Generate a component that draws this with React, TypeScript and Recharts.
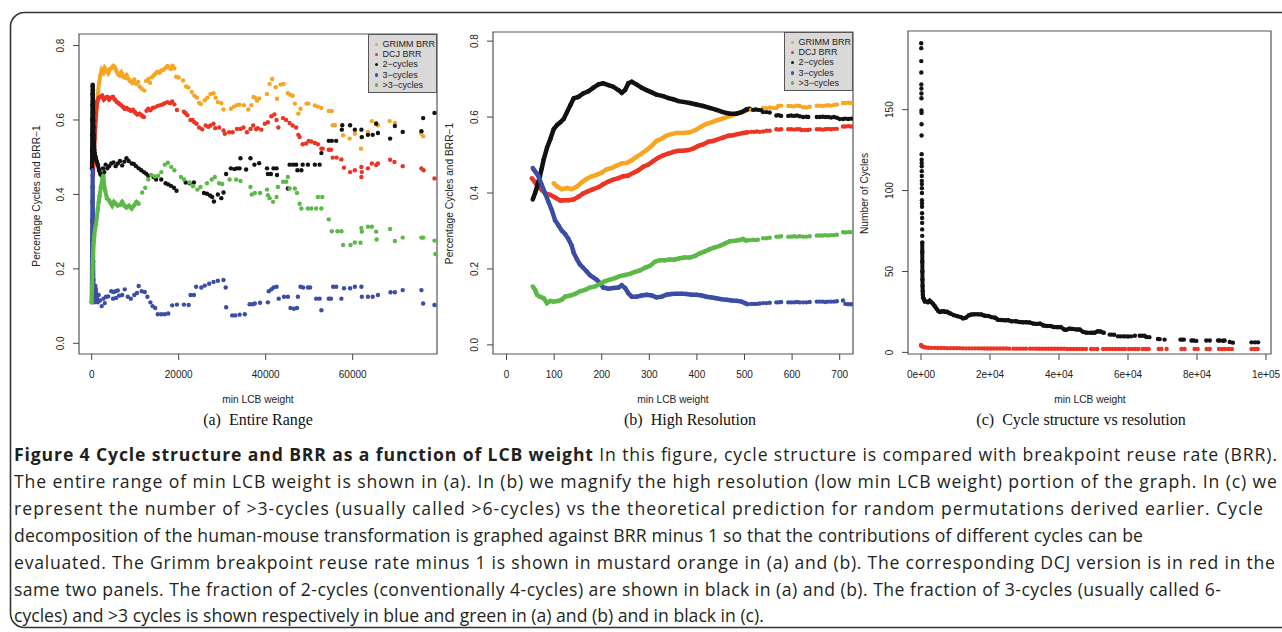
import React from 'react';
import { ScatterChart, Scatter, XAxis, YAxis, ReferenceArea } from 'recharts';

type Pt = [number, number];

const seriesNames = ['GRIMM BRR', 'DCJ BRR', '2\u2212cycles', '3\u2212cycles', '>3\u2212cycles'];
const seriesColors = ['#F6A623', '#EC3425', '#121212', '#3C4DA6', '#5CB948'];

// ---------- Panel (a): Entire Range ----------
const aGrimmDense: Pt[] = [[600,0.55],[800,0.58],[1000,0.61],[1200,0.64],[1400,0.67],[1700,0.70],[2000,0.72],[2300,0.735],[2700,0.728],[3000,0.74],[3400,0.733],[3800,0.726],[4200,0.737],[4600,0.74],[5000,0.745],[5300,0.741],[5600,0.734],[6000,0.724],[6400,0.72],[6800,0.728],[7200,0.717],[7600,0.714],[8000,0.72],[8400,0.711],[8800,0.705],[9300,0.70],[9800,0.709]];
const aGrimmSparse: Pt[] = [[10200,0.697],[10700,0.702],[11000,0.69],[11500,0.684],[12100,0.679],[12500,0.705],[13000,0.71],[13400,0.70],[13800,0.715],[14300,0.72],[14700,0.725],[15100,0.73],[15600,0.727],[16000,0.733],[16500,0.735],[17000,0.74],[17400,0.745],[17800,0.741],[18200,0.737],[18600,0.746],[19000,0.739],[19400,0.716],[20000,0.714],[21000,0.706],[21700,0.69],[22200,0.687],[23000,0.675],[23600,0.665],[24200,0.66],[24700,0.646],[25100,0.643],[26000,0.653],[26600,0.66],[27300,0.67],[28000,0.672],[28500,0.66],[29000,0.648],[29800,0.645],[30300,0.628],[32000,0.63],[32700,0.636],[33400,0.64],[34000,0.641],[35000,0.64],[36000,0.628],[36700,0.64],[37200,0.662],[37500,0.66],[38000,0.652],[38500,0.658],[40300,0.67],[40900,0.697],[41500,0.71],[42300,0.688],[42600,0.657],[43400,0.695],[44100,0.697],[45100,0.672],[45600,0.668],[46200,0.665],[46700,0.644],[47500,0.617],[48000,0.63],[49400,0.644],[49800,0.644],[51300,0.639],[52000,0.636],[52800,0.632],[54500,0.624],[55200,0.624],[55400,0.586],[55900,0.586],[57800,0.559],[59300,0.55],[60500,0.563],[61900,0.523],[62000,0.554],[63500,0.568],[64400,0.597],[65400,0.592],[65800,0.586],[68500,0.597],[69700,0.592],[75800,0.563],[76200,0.556]];
const aDcjDense: Pt[] = [[300,0.45],[400,0.48],[500,0.5],[600,0.53],[700,0.55],[800,0.58],[900,0.6],[1000,0.62],[1100,0.635],[1300,0.65],[1600,0.66],[2000,0.662],[2400,0.665],[2800,0.655],[3200,0.66],[3600,0.662],[4000,0.655],[4400,0.66],[4900,0.662],[5300,0.655],[5800,0.648],[6200,0.645],[6700,0.64],[7200,0.635],[7600,0.63],[8000,0.632],[8500,0.628],[9000,0.625],[9500,0.627],[10000,0.62],[10500,0.615],[11000,0.617],[11500,0.612],[12000,0.608]];
const aDcjSparse: Pt[] = [[12600,0.625],[13000,0.63],[13500,0.626],[14000,0.632],[14500,0.634],[15200,0.638],[15800,0.64],[16300,0.642],[16800,0.645],[17400,0.648],[18000,0.645],[18500,0.65],[19000,0.642],[19600,0.627],[21200,0.622],[21600,0.618],[22000,0.613],[22700,0.6],[23200,0.6],[23600,0.594],[24100,0.59],[24700,0.58],[25400,0.575],[26200,0.585],[26800,0.582],[27300,0.585],[28000,0.59],[28400,0.578],[29300,0.58],[30300,0.572],[30600,0.563],[31600,0.567],[32400,0.567],[33400,0.576],[34200,0.576],[34900,0.58],[35700,0.567],[36500,0.576],[37100,0.585],[37800,0.575],[38200,0.578],[39000,0.574],[39800,0.59],[40500,0.594],[41300,0.61],[42000,0.615],[42500,0.6],[42900,0.58],[44000,0.605],[44700,0.6],[45500,0.592],[46200,0.585],[47000,0.58],[47500,0.56],[47800,0.554],[48500,0.535],[49300,0.537],[49900,0.544],[50500,0.542],[51300,0.538],[52000,0.535],[52800,0.523],[53100,0.523],[54500,0.52],[55000,0.52],[55400,0.499],[56300,0.499],[57400,0.494],[58000,0.472],[59400,0.46],[60500,0.465],[62000,0.474],[62100,0.46],[62000,0.447],[63500,0.47],[64400,0.483],[65400,0.479],[65800,0.483],[68600,0.493],[69600,0.487],[71500,0.476],[75800,0.47],[76300,0.465],[78800,0.443]];
const aTwoDense: Pt[] = [[50,0.47],[80,0.52],[100,0.56],[120,0.6],[150,0.64],[180,0.67],[210,0.69],[240,0.695],[270,0.68],[300,0.65],[330,0.62],[360,0.6],[400,0.58],[450,0.56],[500,0.54],[600,0.52],[700,0.51],[900,0.5],[1100,0.49],[1400,0.48],[1700,0.465],[2000,0.455],[2300,0.45]];
const aTwoSparse: Pt[] = [[2600,0.47],[2900,0.46],[3200,0.48],[3600,0.47],[4000,0.476],[4500,0.483],[5000,0.486],[5500,0.476],[6000,0.483],[6500,0.49],[7000,0.478],[7500,0.488],[8000,0.497],[8500,0.49],[9200,0.483],[9700,0.482],[10200,0.476],[10800,0.47],[11400,0.465],[12000,0.46],[12500,0.456],[13000,0.45],[14200,0.447],[14800,0.44],[16000,0.44],[17000,0.43],[17600,0.427],[18200,0.423],[18900,0.418],[19500,0.41],[21600,0.432],[22500,0.43],[23500,0.432],[25800,0.404],[26500,0.402],[27200,0.397],[27700,0.393],[28100,0.381],[29000,0.4],[29800,0.39],[30300,0.405],[30900,0.455],[32000,0.47],[32800,0.468],[33400,0.47],[34000,0.47],[34200,0.497],[35500,0.467],[36500,0.497],[37400,0.48],[38500,0.484],[40300,0.47],[40500,0.455],[41200,0.455],[41800,0.47],[42500,0.47],[42600,0.452],[45100,0.416],[45500,0.48],[46300,0.48],[47000,0.48],[47300,0.465],[48200,0.465],[48500,0.48],[49700,0.48],[51300,0.48],[52400,0.48],[52800,0.511],[54500,0.544],[55200,0.544],[56200,0.544],[57500,0.574],[57600,0.586],[59400,0.586],[60500,0.574],[62000,0.574],[62100,0.554],[63500,0.56],[64600,0.56],[65400,0.59],[65800,0.565],[68600,0.55],[69700,0.584],[71500,0.568],[75800,0.57],[76200,0.605],[78800,0.619]];
const aThreeDense: Pt[] = [[0,0.11],[50,0.2],[80,0.27],[110,0.33],[140,0.38],[170,0.42],[200,0.45],[230,0.465],[260,0.42],[290,0.35],[320,0.28],[350,0.22],[400,0.17],[450,0.14],[500,0.12],[600,0.11],[700,0.13],[800,0.155],[900,0.145],[1000,0.135],[1200,0.12],[1400,0.11]];
const aThreeSparse: Pt[] = [[1600,0.13],[1900,0.115],[2300,0.1],[2700,0.12],[3000,0.108],[3300,0.125],[3800,0.126],[4500,0.14],[4900,0.12],[5000,0.138],[5500,0.14],[5600,0.122],[6000,0.142],[6300,0.128],[7000,0.13],[7600,0.145],[8300,0.125],[9000,0.12],[9800,0.13],[10400,0.135],[10800,0.154],[11500,0.14],[12200,0.138],[12800,0.125],[13500,0.11],[14000,0.1],[14600,0.095],[15200,0.078],[16000,0.078],[16800,0.078],[17600,0.08],[18500,0.102],[19600,0.104],[21200,0.104],[22300,0.103],[22700,0.13],[23500,0.13],[24000,0.152],[25200,0.15],[26000,0.155],[27000,0.16],[28000,0.165],[29000,0.168],[30300,0.17],[30800,0.15],[30900,0.097],[32300,0.075],[33000,0.075],[34000,0.077],[35200,0.078],[36300,0.105],[37000,0.105],[37500,0.107],[38700,0.109],[40500,0.11],[40700,0.14],[41300,0.145],[41800,0.15],[42500,0.152],[43000,0.12],[44200,0.125],[45100,0.125],[45700,0.095],[46500,0.093],[47200,0.095],[47400,0.125],[48000,0.152],[48600,0.15],[49700,0.15],[50200,0.15],[51600,0.12],[52400,0.12],[52800,0.089],[54500,0.12],[55000,0.12],[55500,0.152],[56200,0.152],[57400,0.12],[58000,0.148],[59400,0.148],[60500,0.152],[62000,0.152],[62100,0.125],[63500,0.125],[64600,0.125],[65800,0.13],[68700,0.137],[69700,0.137],[71500,0.143],[75800,0.143],[76200,0.107],[78800,0.103]];
const aMoreDense: Pt[] = [[0,0.11],[100,0.15],[200,0.2],[300,0.24],[450,0.27],[600,0.29],[800,0.31],[1000,0.32],[1200,0.34],[1400,0.36],[1600,0.38],[1800,0.395],[2100,0.42],[2500,0.445],[2700,0.45],[2900,0.42],[3100,0.41],[3500,0.39],[3900,0.385],[4300,0.378],[4700,0.37],[5100,0.38],[5500,0.375],[6000,0.37],[6500,0.372],[7000,0.38],[7500,0.37],[8000,0.365],[8600,0.37],[9200,0.362],[9700,0.37],[10300,0.38],[10800,0.375]];
const aMoreSparse: Pt[] = [[11600,0.405],[12300,0.418],[13000,0.44],[13700,0.452],[14500,0.448],[15300,0.45],[16000,0.46],[16800,0.48],[17500,0.485],[18300,0.474],[19000,0.465],[20500,0.447],[21200,0.44],[22500,0.432],[23300,0.422],[24300,0.413],[25000,0.42],[26500,0.43],[27600,0.44],[28300,0.447],[29300,0.43],[30000,0.428],[31700,0.44],[33200,0.44],[34200,0.436],[36500,0.42],[36800,0.4],[37500,0.404],[38700,0.404],[40300,0.413],[40500,0.398],[40900,0.39],[41700,0.38],[42500,0.393],[42800,0.42],[44000,0.434],[44700,0.434],[45100,0.447],[45500,0.416],[46700,0.416],[47200,0.404],[47800,0.375],[48200,0.362],[49700,0.362],[50500,0.362],[51600,0.362],[52000,0.393],[53000,0.393],[52800,0.362],[54500,0.333],[55200,0.301],[56500,0.301],[57400,0.301],[57800,0.264],[59500,0.264],[60500,0.271],[61800,0.27],[62000,0.31],[62100,0.3],[63500,0.313],[64400,0.313],[65400,0.3],[65500,0.279],[68600,0.307],[69700,0.275],[71500,0.284],[75800,0.284],[76200,0.284],[78800,0.276],[79000,0.24]];

// ---------- Panel (b): High Resolution ----------
const bGrimmDense: Pt[] = [[99,0.426],[106,0.417],[116,0.41],[127,0.413],[137,0.41],[148,0.417],[158,0.428],[168,0.437],[179,0.444],[189,0.448],[200,0.454],[210,0.462],[221,0.466],[231,0.472],[242,0.478],[252,0.479],[263,0.486],[273,0.495],[284,0.504],[294,0.513],[305,0.524],[315,0.537],[326,0.543],[336,0.551],[347,0.555],[357,0.558],[371,0.558],[385,0.56],[399,0.567],[410,0.576],[420,0.582],[431,0.586],[441,0.591],[452,0.595],[462,0.6],[473,0.604],[483,0.609],[494,0.613],[504,0.617]];
const bGrimmSparse: Pt[] = [[514,0.619],[519,0.619],[524,0.62],[528,0.619],[539,0.624],[546,0.623],[553,0.625],[560,0.624],[567,0.624],[571,0.629],[577,0.63],[592,0.629],[598,0.629],[604,0.628],[610,0.63],[616,0.629],[623,0.626],[630,0.625],[637,0.627],[652,0.63],[658,0.63],[664,0.629],[670,0.63],[676,0.631],[682,0.63],[688,0.632],[694,0.633],[707,0.637],[712,0.637],[718,0.638],[724,0.637]];
const bDcjDense: Pt[] = [[53,0.439],[60,0.428],[67,0.415],[74,0.408],[81,0.399],[92,0.395],[102,0.388],[113,0.38],[120,0.381],[130,0.381],[141,0.383],[151,0.39],[161,0.399],[172,0.405],[182,0.41],[193,0.415],[203,0.423],[214,0.43],[224,0.435],[235,0.439],[245,0.444],[256,0.446],[266,0.453],[277,0.46],[287,0.469],[298,0.475],[308,0.484],[319,0.493],[329,0.499],[340,0.504],[350,0.508],[361,0.511],[371,0.511],[382,0.513],[392,0.517],[403,0.524],[413,0.528],[424,0.535],[434,0.537],[445,0.542],[455,0.546],[466,0.551],[476,0.552],[486,0.555],[497,0.558],[507,0.56]];
const bDcjSparse: Pt[] = [[514,0.561],[520,0.561],[526,0.562],[532,0.561],[539,0.562],[546,0.564],[553,0.564],[567,0.568],[572,0.567],[577,0.568],[592,0.568],[598,0.568],[604,0.567],[610,0.568],[616,0.568],[620,0.566],[627,0.566],[633,0.566],[637,0.567],[652,0.568],[658,0.568],[664,0.567],[670,0.568],[676,0.569],[682,0.568],[688,0.569],[694,0.569],[707,0.575],[712,0.575],[718,0.576],[724,0.575]];
const bTwoDense: Pt[] = [[55,0.383],[60,0.4],[64,0.417],[70,0.444],[74,0.465],[78,0.488],[85,0.519],[92,0.542],[99,0.568],[106,0.579],[113,0.586],[120,0.595],[127,0.613],[134,0.631],[141,0.649],[151,0.653],[161,0.662],[172,0.668],[182,0.677],[193,0.686],[203,0.689],[214,0.684],[224,0.68],[235,0.671],[242,0.664],[249,0.671],[256,0.689],[263,0.693],[273,0.686],[284,0.677],[294,0.671],[305,0.665],[315,0.659],[329,0.655],[340,0.65],[350,0.647],[361,0.642],[371,0.64],[385,0.637],[399,0.633],[413,0.629],[427,0.624],[441,0.619],[455,0.613],[469,0.609],[483,0.609],[494,0.613],[504,0.62],[511,0.622]];
const bTwoSparse: Pt[] = [[518,0.619],[523,0.62],[529,0.619],[535,0.618],[539,0.613],[546,0.613],[553,0.612],[567,0.604],[572,0.605],[577,0.603],[592,0.603],[598,0.604],[604,0.603],[610,0.604],[616,0.602],[623,0.6],[630,0.601],[634,0.6],[652,0.6],[658,0.6],[664,0.601],[670,0.6],[676,0.6],[682,0.599],[688,0.6],[694,0.598],[700,0.595],[707,0.595],[712,0.596],[718,0.595],[724,0.596]];
const bThreeDense: Pt[] = [[55,0.466],[60,0.457],[67,0.444],[74,0.421],[81,0.399],[88,0.377],[95,0.355],[102,0.328],[109,0.315],[116,0.301],[123,0.292],[130,0.279],[137,0.261],[141,0.243],[148,0.225],[154,0.212],[161,0.203],[168,0.194],[175,0.184],[182,0.178],[189,0.172],[196,0.163],[203,0.151],[214,0.148],[224,0.15],[235,0.151],[242,0.157],[249,0.15],[256,0.136],[263,0.127],[273,0.127],[284,0.13],[294,0.132],[305,0.13],[315,0.125],[326,0.127],[336,0.132],[347,0.134],[357,0.135],[368,0.135],[378,0.134],[389,0.132],[399,0.132],[410,0.13],[420,0.127],[431,0.125],[441,0.123],[452,0.12],[462,0.119],[473,0.117],[483,0.116],[494,0.114],[501,0.11],[507,0.107]];
const bThreeSparse: Pt[] = [[514,0.108],[520,0.108],[526,0.108],[532,0.109],[539,0.11],[546,0.11],[553,0.111],[567,0.112],[572,0.112],[577,0.113],[592,0.112],[598,0.112],[604,0.112],[610,0.113],[616,0.112],[623,0.112],[630,0.112],[637,0.113],[652,0.114],[658,0.114],[664,0.114],[670,0.113],[676,0.114],[682,0.114],[688,0.114],[694,0.115],[707,0.117],[712,0.108],[718,0.107],[724,0.107]];
const bMoreDense: Pt[] = [[55,0.154],[60,0.145],[64,0.132],[70,0.127],[78,0.123],[85,0.11],[92,0.116],[99,0.114],[109,0.116],[116,0.119],[123,0.127],[134,0.13],[144,0.134],[154,0.141],[165,0.145],[175,0.151],[186,0.154],[196,0.16],[207,0.168],[217,0.172],[228,0.176],[238,0.181],[249,0.184],[259,0.187],[270,0.192],[280,0.196],[291,0.203],[301,0.208],[312,0.219],[322,0.223],[333,0.223],[343,0.225],[354,0.225],[364,0.228],[374,0.23],[385,0.23],[396,0.234],[406,0.241],[417,0.246],[427,0.252],[438,0.257],[448,0.261],[459,0.267],[469,0.273],[480,0.274],[490,0.276],[497,0.279],[504,0.274]];
const bMoreSparse: Pt[] = [[507,0.276],[512,0.276],[518,0.277],[523,0.276],[528,0.277],[539,0.281],[546,0.281],[553,0.282],[567,0.285],[572,0.285],[577,0.286],[592,0.285],[598,0.285],[604,0.286],[610,0.285],[616,0.286],[623,0.285],[630,0.285],[637,0.286],[652,0.288],[658,0.288],[664,0.288],[670,0.289],[676,0.288],[682,0.289],[688,0.289],[694,0.29],[707,0.297],[712,0.296],[718,0.297],[724,0.297]];

// ---------- Panel (c): Cycle structure vs resolution ----------
const cCyclesTop: Pt[] = [[60,191],[70,188],[80,180],[90,173],[100,165.5],[110,163],[120,160],[130,157],[140,149.5],[150,148],[160,141],[170,134],[180,122.5],[190,119],[200,117],[210,115],[220,112],[230,109],[240,106],[250,104],[260,101.5],[270,98.5],[280,94],[290,92],[300,90],[310,86],[320,83],[330,80],[340,76],[350,72]];
const cCyclesDense: Pt[] = [[360,68],[370,62],[380,56],[400,50],[420,45],[450,41],[490,38],[540,35.5],[600,34],[800,33],[1100,31.5],[1500,31.5],[2000,31],[2500,32],[3000,31],[3500,30],[4000,28.5],[4500,27],[5000,25.5],[5500,25],[6000,25.3],[6500,25.5],[7000,25],[7500,25.2],[8000,24.5],[8500,24],[9500,23],[10500,22.4],[11500,21.8],[12200,21],[13000,21.5],[13800,22.8],[14600,23.4],[15500,23.5],[16500,23.5],[17500,23.4],[18500,22.6],[19500,22.5],[20400,21.8],[21500,21.4],[22300,20.2],[23200,20],[24300,19.8],[25300,19.9],[26200,19.2],[27500,19.2],[28500,18.8],[29500,18.6],[30500,18.6],[31500,18.5],[32500,17.8],[33500,17.6],[34500,17.8],[35500,16.6],[36500,16.3],[37500,16.3],[38500,15.7],[39500,15.6],[40500,15.7],[41500,14.2],[42000,13.9],[43000,14.7],[44000,14.5],[45200,14.1],[46000,14.1],[47000,12.7],[48000,12.2],[49400,12.1],[50300,12.1],[51200,13],[52000,12.9],[53000,12.1]];
const cCyclesSparse: Pt[] = [[54700,11],[55300,11],[56000,10.9],[57100,9.9],[57800,9.9],[58600,9.9],[59200,9.9],[60000,9.8],[60900,9.9],[62000,10.3],[63400,10.3],[64100,10.3],[64800,10.3],[65300,9.5],[66200,9.4],[68700,8.3],[69200,8.2],[70600,7.9],[75200,7.9],[75700,7.9],[76200,7.9],[78400,7.3],[79000,7.3],[79800,7.1],[82700,7.3],[83700,7.3],[86100,7.3],[86600,7.3],[87500,7.2],[88000,7.3],[89500,6.4],[90400,6.0],[95800,6.2],[96800,6.2],[97700,6.2]];
const cPrediction: Pt[] = [[0,4.6],[150,4.0],[400,3.6],[800,3.3],[1400,3.0],[2200,2.9],[3100,2.8],[4000,2.8],[4900,2.7],[5800,2.7],[6700,2.7],[7600,2.6],[8500,2.6],[9400,2.6],[10300,2.6],[11200,2.6],[12100,2.5],[13000,2.5],[13900,2.5],[14800,2.5],[15700,2.5],[16600,2.5],[17500,2.5],[18400,2.4],[19300,2.4],[20200,2.4],[21100,2.4],[22000,2.4],[22900,2.4],[23800,2.4],[24700,2.4],[25600,2.3],[26800,2.3],[27700,2.3],[28600,2.3],[29500,2.3],[30400,2.3],[31600,2.3],[32500,2.3],[33400,2.2],[34300,2.2],[35200,2.2],[36100,2.2],[37000,2.2],[37900,2.2],[38800,2.2],[39700,2.2],[40600,2.2],[41500,2.2],[42400,2.1],[43300,2.1],[44200,2.1],[45100,2.1],[46000,2.1],[46900,2.1],[47800,2.1],[49300,2.1],[50200,2.1],[51100,2.1],[52800,2.1],[53700,2.1],[54600,2.1],[55500,2.1],[56400,2.1],[57300,2.1],[58200,2.1],[59100,2.1],[60300,2.1],[61200,2.1],[62100,2.1],[63000,2.1],[64200,2.1],[65100,2.1],[66000,2.1],[68900,2.1],[69700,2.1],[71200,2.1],[75500,2.1],[76400,2.1],[79300,2.1],[80200,2.1],[82800,2.1],[83700,2.1],[86400,2.1],[87300,2.1],[88200,2.1],[89200,2.1],[90100,2.1],[95800,2.1],[96700,2.1],[97600,2.1]];

// ---------- Ticks ----------
const aXTicks = [0, 20000, 40000, 60000];
const aXTickLabels = ['0', '20000', '40000', '60000'];
const bXTicks = [0, 100, 200, 300, 400, 500, 600, 700];
const bXTickLabels = ['0', '100', '200', '300', '400', '500', '600', '700'];
const abYTicks = [0, 0.2, 0.4, 0.6, 0.8];
const abYTickLabels = ['0.0', '0.2', '0.4', '0.6', '0.8'];
const cXTicks = [0, 20000, 40000, 60000, 80000, 100000];
const cXTickLabels = ['0e+00', '2e+04', '4e+04', '6e+04', '8e+04', '1e+05'];
const cYTicks = [0, 50, 100, 150];
const cYTickLabels = ['0', '50', '100', '150'];

const captionLines = [
  'The entire range of min LCB weight is shown in (a). In (b) we magnify the high resolution (low min LCB weight) portion of the graph. In (c) we',
  'represent the number of >3-cycles (usually called >6-cycles) vs the theoretical prediction for random permutations derived earlier. Cycle',
  'decomposition of the human-mouse transformation is graphed against BRR minus 1 so that the contributions of different cycles can be',
  'evaluated. The Grimm breakpoint reuse rate minus 1 is shown in mustard orange in (a) and (b). The corresponding DCJ version is in red in the',
  'same two panels. The fraction of 2-cycles (conventionally 4-cycles) are shown in black in (a) and (b). The fraction of 3-cycles (usually called 6-',
  'cycles) and >3 cycles is shown respectively in blue and green in (a) and (b) and in black in (c).',
];
const captionTitle = 'Figure 4 Cycle structure and BRR as a function of LCB weight';
const captionFirst = ' In this figure, cycle structure is compared with breakpoint reuse rate (BRR).';
const captionEnds = [1277, 1277, 1263, 1143, 1275, 1221, 0];

const AX_FONT = '"Liberation Sans", Arial, Helvetica, sans-serif';

const toRows = (pts: Pt[]) => pts.map(([x, y]) => ({ x, y }));

const dotShape = (color: string, r: number) => (props: any) => {
  if (props.cx == null || props.cy == null || isNaN(props.cx) || isNaN(props.cy)) return <g />;
  return <circle cx={props.cx} cy={props.cy} r={r} fill={color} />;
};

interface SeriesDef { dense: Pt[]; sparse: Pt[]; color: string; }
interface PanelCfg {
  boxLeft: number; boxRight: number; boxTop: number; boxBottom: number; rightPad: number;
  xDomain: [number, number]; yDomain: [number, number];
  xTicks: number[]; xLabels: string[]; yTicks: number[]; yLabels: string[];
  series: SeriesDef[]; lineWidth: number;
}

function Panel(p: PanelCfg) {
  const YW = 60, XH = 40, H = 430;
  const width = p.boxRight - p.boxLeft + YW + p.rightPad;
  const xt = (t: any) => {
    const i = p.xTicks.indexOf(t.payload.value);
    return (
      <text x={t.x} y={t.y + 16} textAnchor="middle" fontSize={10} fontFamily={AX_FONT} fill="#222">
        {i >= 0 ? p.xLabels[i] : ''}
      </text>
    );
  };
  const yt = (t: any) => {
    const i = p.yTicks.indexOf(t.payload.value);
    const cx = t.x - 10.7;
    const cy = t.y;
    return (
      <text x={cx} y={cy} dy="0.35em" transform={`rotate(-90 ${cx} ${cy})`} textAnchor="middle" fontSize={10} fontFamily={AX_FONT} fill="#222">
        {i >= 0 ? p.yLabels[i] : ''}
      </text>
    );
  };
  return (
    <div style={{ position: 'absolute', left: p.boxLeft - YW, top: 0 }}>
      <ScatterChart width={width} height={H} margin={{ top: p.boxTop, right: p.rightPad, bottom: H - p.boxBottom - XH, left: 0 }}>
        <XAxis type="number" dataKey="x" domain={p.xDomain} ticks={p.xTicks} interval={0} allowDataOverflow
          axisLine={false} tickLine={{ stroke: '#444', strokeWidth: 1 }} tickSize={6} height={XH} tick={xt} />
        <YAxis type="number" dataKey="y" domain={p.yDomain} ticks={p.yTicks} interval={0} allowDataOverflow
          axisLine={false} tickLine={{ stroke: '#444', strokeWidth: 1 }} tickSize={6} width={YW} tick={yt} />
        {p.series.map((s, i) => (
          <Scatter key={'d' + i} data={toRows(s.dense)} fill={s.color}
            line={{ stroke: s.color, strokeWidth: p.lineWidth }} lineJointType="linear"
            shape={dotShape(s.color, 2.2)} isAnimationActive={false} />
        ))}
        {p.series.map((s, i) => (
          <Scatter key={'s' + i} data={toRows(s.sparse)} fill={s.color}
            shape={dotShape(s.color, 2.2)} isAnimationActive={false} />
        ))}
        <ReferenceArea x1={p.xDomain[0]} x2={p.xDomain[1]} y1={p.yDomain[0]} y2={p.yDomain[1]}
          fill="none" fillOpacity={0} stroke="#555" strokeWidth={1.2} ifOverflow="visible" />
      </ScatterChart>
    </div>
  );
}

function LegendBox({ left, top }: { left: number; top: number }) {
  return (
    <div style={{ position: 'absolute', left, top, width: 69, height: 59, background: '#D9D9D9', border: '1px solid #555', boxSizing: 'border-box' }}>
      {seriesNames.map((n, i) => (
        <div key={n} style={{ position: 'absolute', left: 0, top: 4 + i * 10.2, height: 10, width: 68 }}>
          <div style={{ position: 'absolute', left: 5.5, top: 3.5, width: 3.5, height: 3.5, borderRadius: 2, background: seriesColors[i] }} />
          <div style={{ position: 'absolute', left: 13.5, top: -1, fontSize: 9, lineHeight: '12px', fontFamily: AX_FONT, color: '#222', whiteSpace: 'nowrap' }}>{n}</div>
        </div>
      ))}
    </div>
  );
}

export default function App() {
  const mk = (d: Pt[][], s: Pt[][]): SeriesDef[] => d.map((dd, i) => ({ dense: dd, sparse: s[i], color: seriesColors[i] }));
  const aSeries = mk([aGrimmDense, aDcjDense, aTwoDense, aThreeDense, aMoreDense], [aGrimmSparse, aDcjSparse, aTwoSparse, aThreeSparse, aMoreSparse]);
  const bSeries = mk([bGrimmDense, bDcjDense, bTwoDense, bThreeDense, bMoreDense], [bGrimmSparse, bDcjSparse, bTwoSparse, bThreeSparse, bMoreSparse]);
  const cSeries: SeriesDef[] = [
    { dense: cCyclesDense, sparse: [...cCyclesTop, ...cCyclesSparse], color: seriesColors[2] },
    { dense: [], sparse: cPrediction, color: seriesColors[1] },
  ];
  const titleStyle = { fontFamily: AX_FONT, fontSize: 10.2, fill: '#222' } as const;
  const capFont = '"Open Sans", "Noto Sans", sans-serif';
  const serif = '"Liberation Serif", "Times New Roman", serif';
  const CAP_SIZE = 17.6;
  return (
    <div style={{ position: 'absolute', left: 0, top: 0, width: 1282, height: 632, background: '#fff', overflow: 'hidden' }}>
      <svg width={1282} height={632} style={{ position: 'absolute', left: 0, top: 0 }}>
        <rect x={10.5} y={12.5} width={1290} height={615} rx={14} ry={14} fill="none" stroke="#333" strokeWidth={1.6} />
        <text x={258} y={402.5} textAnchor="middle" {...titleStyle}>min LCB weight</text>
        <text x={673} y={402.5} textAnchor="middle" {...titleStyle}>min LCB weight</text>
        <text x={1090} y={402.5} textAnchor="middle" {...titleStyle}>min LCB weight</text>
        <text x={36} y={196} dy="0.35em" transform="rotate(-90 36 196)" textAnchor="middle" {...titleStyle}>Percentage Cycles and BRR{'\u2212'}1</text>
        <text x={449} y={193.5} dy="0.35em" transform="rotate(-90 449 193.5)" textAnchor="middle" {...titleStyle}>Percentage Cycles and BRR{'\u2212'}1</text>
        <text x={864} y={193.5} dy="0.35em" transform="rotate(-90 864 193.5)" textAnchor="middle" {...titleStyle}>Number of Cycles</text>
        <text x={258} y={425} textAnchor="middle" fontFamily={serif} fontSize={16} fill="#111">(a){'\u00a0\u00a0'}Entire Range</text>
        <text x={690} y={425} textAnchor="middle" fontFamily={serif} fontSize={16} fill="#111">(b){'\u00a0\u00a0'}High Resolution</text>
        <text x={1081} y={425} textAnchor="middle" fontFamily={serif} fontSize={16} fill="#111">(c){'\u00a0\u00a0'}Cycle structure vs resolution</text>
        <text x={14} y={461} textLength={captionEnds[0] - 14} lengthAdjust="spacing" fontFamily={capFont} fontSize={CAP_SIZE} fill="#231F20">
          <tspan fontWeight={700}>{captionTitle}</tspan>
          <tspan>{captionFirst}</tspan>
        </text>
        {captionLines.map((l, i) => (
          captionEnds[i + 1] > 0 ? (
            <text key={i} x={14} y={461 + (i + 1) * 26.9} textLength={captionEnds[i + 1] - 14} lengthAdjust="spacing" fontFamily={capFont} fontSize={CAP_SIZE} fill="#231F20">{l}</text>
          ) : (
            <text key={i} x={14} y={461 + (i + 1) * 26.9} fontFamily={capFont} fontSize={CAP_SIZE} fill="#231F20">{l}</text>
          )
        ))}
      </svg>
      <Panel boxLeft={79} boxRight={437} boxTop={34} boxBottom={354} rightPad={6}
        xDomain={[-2920, 79380]} yDomain={[-0.0287, 0.831]}
        xTicks={aXTicks} xLabels={aXTickLabels} yTicks={abYTicks} yLabels={abYTickLabels}
        series={aSeries} lineWidth={4} />
      <Panel boxLeft={493} boxRight={853} boxTop={32} boxBottom={354} rightPad={6}
        xDomain={[-28.5, 728]} yDomain={[-0.024, 0.824]}
        xTicks={bXTicks} xLabels={bXTickLabels} yTicks={abYTicks} yLabels={abYTickLabels}
        series={bSeries} lineWidth={4.5} />
      <Panel boxLeft={908} boxRight={1271} boxTop={31} boxBottom={354} rightPad={11}
        xDomain={[-3770, 101450]} yDomain={[-1.0, 198.6]}
        xTicks={cXTicks} xLabels={cXTickLabels} yTicks={cYTicks} yLabels={cYTickLabels}
        series={cSeries} lineWidth={4} />
      <LegendBox left={368} top={34} />
      <LegendBox left={784} top={32} />
    </div>
  );
}
